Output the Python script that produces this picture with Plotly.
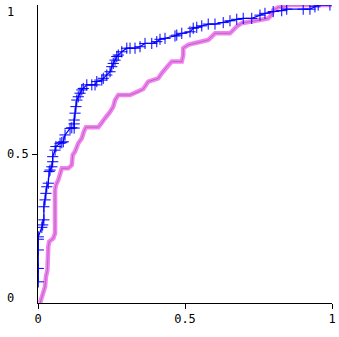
import plotly.graph_objs as go

# blue curve (false positive rate, true positive rate)
blue_fpr = [0.001, 0.001, 0.001, 0.001, 0.001, 0.013, 0.016, 0.020, 0.020, 0.024,
            0.027, 0.030, 0.035, 0.038, 0.041, 0.047, 0.050, 0.050, 0.058, 0.061,
            0.075, 0.081, 0.086, 0.092, 0.109, 0.115, 0.123, 0.123, 0.123, 0.126,
            0.129, 0.132, 0.137, 0.143, 0.149, 0.154, 0.166, 0.183, 0.194, 0.200,
            0.217, 0.222, 0.234, 0.245, 0.251, 0.256, 0.262, 0.268, 0.273, 0.285,
            0.302, 0.313, 0.330, 0.347, 0.364, 0.387, 0.404, 0.415, 0.432, 0.466,
            0.472, 0.489, 0.517, 0.528, 0.540, 0.557, 0.579, 0.602, 0.630, 0.653,
            0.676, 0.698, 0.727, 0.755, 0.772, 0.800, 0.829, 0.846, 0.902, 0.925,
            0.942, 0.953, 0.993]
blue_tpr = [0.071, 0.116, 0.178, 0.214, 0.222, 0.254, 0.262, 0.279, 0.323, 0.346,
            0.368, 0.390, 0.402, 0.441, 0.446, 0.457, 0.474, 0.491, 0.513, 0.525,
            0.536, 0.538, 0.541, 0.564, 0.586, 0.588, 0.587, 0.601, 0.614, 0.637,
            0.659, 0.681, 0.692, 0.704, 0.715, 0.720, 0.732, 0.732, 0.732, 0.743,
            0.748, 0.754, 0.765, 0.776, 0.793, 0.804, 0.815, 0.827, 0.832, 0.843,
            0.855, 0.855, 0.855, 0.860, 0.871, 0.871, 0.877, 0.885, 0.888, 0.896,
            0.899, 0.905, 0.910, 0.922, 0.925, 0.930, 0.936, 0.936, 0.941, 0.947,
            0.952, 0.955, 0.955, 0.966, 0.972, 0.978, 0.981, 0.986, 0.986, 0.986,
            0.994, 1.000, 1.000]

# magenta curve
pink_fpr = [0.007, 0.018, 0.024, 0.027, 0.032, 0.035, 0.038, 0.052, 0.058, 0.058,
            0.061, 0.069, 0.075, 0.081, 0.103, 0.115, 0.118, 0.126, 0.137, 0.149,
            0.156, 0.163, 0.205, 0.217, 0.228, 0.245, 0.256, 0.262, 0.273, 0.313,
            0.341, 0.358, 0.375, 0.381, 0.409, 0.421, 0.438, 0.455, 0.489, 0.494,
            0.494, 0.511, 0.528, 0.557, 0.579, 0.591, 0.602, 0.653, 0.664, 0.676,
            0.693, 0.721, 0.744, 0.783, 0.794, 0.800, 0.817, 0.840, 0.851, 0.999]
pink_tpr = [0.000, 0.033, 0.055, 0.088, 0.111, 0.189, 0.206, 0.217, 0.234, 0.379,
            0.396, 0.413, 0.430, 0.452, 0.452, 0.463, 0.497, 0.508, 0.536, 0.553,
            0.575, 0.590, 0.590, 0.603, 0.620, 0.641, 0.659, 0.681, 0.698, 0.698,
            0.709, 0.718, 0.743, 0.745, 0.754, 0.771, 0.793, 0.810, 0.810, 0.832,
            0.855, 0.866, 0.871, 0.877, 0.883, 0.894, 0.905, 0.905, 0.916, 0.928,
            0.939, 0.944, 0.950, 0.955, 0.966, 0.983, 0.992, 0.994, 1.000, 1.000]

y_labels = ["0", "0.5", "1"]
y_label_vals = [0, 0.5, 1]

fig = go.Figure()

# thick dithered magenta band with a grey line inside
fig.add_trace(go.Scatter(x=pink_fpr, y=pink_tpr, mode="lines",
                         line=dict(color="rgba(240,40,240,0.6)", width=4.5)))
fig.add_trace(go.Scatter(x=pink_fpr, y=pink_tpr, mode="lines",
                         line=dict(color="rgba(150,110,150,0.8)", width=1)))

fig.add_trace(go.Scatter(
    x=blue_fpr, y=blue_tpr, mode="lines+markers",
    line=dict(color="#0000ff", width=1.2),
    marker=dict(symbol="cross-thin", size=8, line=dict(color="#0000ff", width=1)),
))

font = dict(family="DejaVu Sans Mono", size=12, color="black")

fig.update_xaxes(
    range=[0, 1], tickvals=[0, 0.5, 1], ticktext=["0", "0.5", "1"],
    showline=True, linecolor="black", linewidth=1, showgrid=False, zeroline=False,
    ticks="outside", ticklen=5, tickcolor="black", tickfont=font, automargin=False,
)
fig.update_yaxes(
    range=[0, 1], tickvals=[0.5], ticktext=[""],
    showline=True, linecolor="black", linewidth=1, showgrid=False, zeroline=False,
    ticks="outside", ticklen=5, tickcolor="black", automargin=False,
)

for lab, v in zip(y_labels, y_label_vals):
    yy = v
    if v == 1:
        yy = 0.975
    elif v == 0:
        yy = 0.017
    fig.add_annotation(text=lab, x=-0.112, y=yy, xref="paper", yref="paper",
                       xanchor="left", yanchor="middle", showarrow=False, font=font)

fig.update_layout(
    width=339, height=337,
    margin=dict(l=38, r=7, t=5, b=34, autoexpand=False),
    plot_bgcolor="white", paper_bgcolor="white",
    showlegend=False,
)

# drop the browser's default body margin so the figure sits at the page corner
fig.write_html("out.html", config={"displayModeBar": False},
               post_script="document.body.style.margin='0';")
